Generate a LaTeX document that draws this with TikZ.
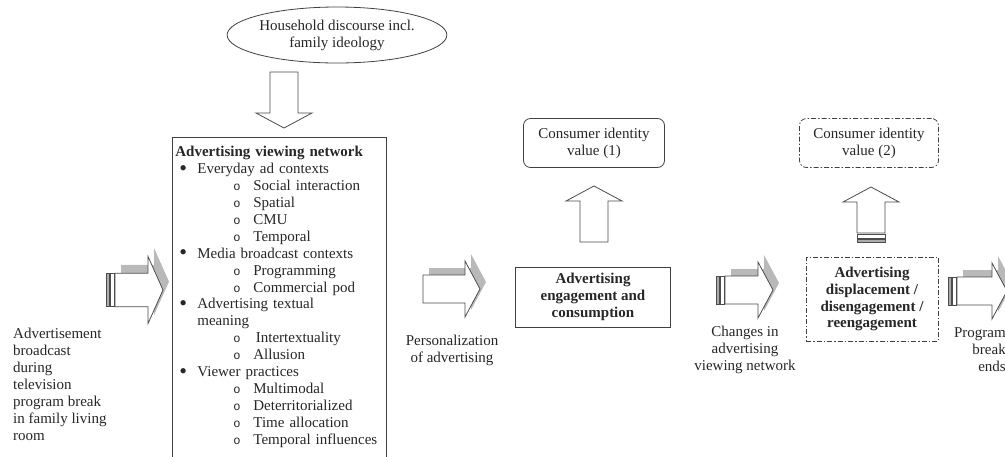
\documentclass[tikz,border=0pt]{standalone}
\usepackage{fontspec}
\setmainfont{Liberation Serif}
\newfontfamily\subbullet{Liberation Mono}
\usetikzlibrary{shapes.geometric, positioning}

\newcommand{\diagfont}{\fontsize{15}{16.9}\selectfont}
\newcommand{\bline}[1]{\hspace*{4pt}\makebox[18pt][l]{\raisebox{-1.5pt}{\fontsize{22}{16}\selectfont\textbullet}}#1}
\newcommand{\sline}[1]{\hspace*{58pt}\makebox[20pt][l]{\fontsize{12}{12}\subbullet o}#1}

% block arrow: [options] {x} {y} {angle} {length}, drawn from the tail
\newcommand{\blockarrow}[5][]{%
  \draw[blockline, shift={(#2,#3)}, rotate=#4, #1] (0,-14) -- ({#5-15},-14) -- ({#5-15},-28) -- (#5,0) -- ({#5-15},28) -- ({#5-15},14) -- (0,14) -- cycle;}
% stripes behind the tail of a block arrow
\newcommand{\stripes}[4][]{%
  \draw[blockline, shift={(#2,#3)}, rotate=#4, #1, fill=gray!65] (-9,-14) rectangle (-6,14);
  \draw[blockline, shift={(#2,#3)}, rotate=#4, #1] (-5,-14) rectangle (-1,14);}

\tikzset{
  blockline/.style={draw=black!70, fill=white, line width=0.8pt},
  shadowfill/.style={draw=none, fill=gray!55, xshift=6pt, yshift=7pt},
  plain/.style={font=\diagfont, text=black!85, inner sep=0pt},
  boldbox/.style={rectangle, draw=black!75, line width=0.8pt, align=center, font=\diagfont\bfseries, text=black!85},
  dashdot/.style={dash pattern=on 5pt off 2pt on 1.5pt off 2pt}
}

\begin{document}
\begin{tikzpicture}[x=1pt,y=-1pt]
\useasboundingbox (0,0) rectangle (1005,456);
\clip (0,0) rectangle (1005,456);

\node[ellipse, draw=black!75, line width=0.8pt, minimum width=178, minimum height=56, align=center, font=\diagfont, text=black!85, inner sep=0pt] (household) at (337,35) {Household discourse incl.\\family ideology};

\node[rectangle, draw=black!75, line width=0.8pt, anchor=north west, text width=208pt, inner xsep=3pt, inner ysep=9pt, align=left, font=\diagfont, text=black!85] (network) at (172,137) {%
\textbf{Advertising viewing network}\\
\bline{Everyday ad contexts}\\
\sline{Social interaction}\\
\sline{Spatial}\\
\sline{CMU}\\
\sline{Temporal}\\
\bline{Media broadcast contexts}\\
\sline{Programming}\\
\sline{Commercial pod}\\
\bline{Advertising textual}\\
\hspace*{22pt}meaning\\
\sline{\,Intertextuality}\\
\sline{Allusion}\\
\bline{Viewer practices}\\
\sline{Multimodal}\\
\sline{Deterritorialized}\\
\sline{Time allocation}\\
\sline{Temporal influences}\\[14pt]
\strut};

\node[plain, align=left, anchor=north west] (broadcast) at (13,328) {Advertisement\\broadcast\\during\\television\\program break\\in family living\\room};

\node[plain, align=center] (personal) at (452,350) {Personalization\\of advertising};

\node[boldbox, minimum width=155, minimum height=60] (engage) at (593,297) {Advertising\\engagement and\\consumption};
\node[rectangle, rounded corners=7pt, draw=black!75, line width=0.8pt, minimum width=141, minimum height=49, align=center, font=\diagfont, text=black!85] (value1) at (594,143) {Consumer identity\\value (1)};

\node[plain, align=center] (changes) at (745,350) {Changes in\\advertising\\viewing network};

\node[boldbox, dashdot, minimum width=132, minimum height=84] (displace) at (872,299) {Advertising\\displacement /\\disengagement /\\reengagement};
\node[rectangle, rounded corners=7pt, draw=black!75, line width=0.8pt, dashdot, minimum width=139, minimum height=49, align=center, font=\diagfont, text=black!85] (value2) at (869,143) {Consumer identity\\value (2)};

\node[plain, align=right, anchor=east] (progend) at (1006,350) {Program\\break\\ends};

% block arrows
\blockarrow{284}{72}{270}{56}
\blockarrow{594}{242}{90}{56}
\stripes{871}{233}{90}
\blockarrow{871}{233}{90}{46}

\blockarrow[yscale=1.2, shadowfill]{115}{290}{0}{48}
\stripes[yscale=1.2]{115}{290}{0}
\blockarrow[yscale=1.2]{115}{290}{0}{48}

\blockarrow[shadowfill]{423}{289}{0}{57}
\blockarrow{423}{289}{0}{57}

\blockarrow[shadowfill]{725}{290}{0}{48}
\stripes{725}{290}{0}
\blockarrow{725}{290}{0}{48}

\blockarrow[shadowfill]{957}{291}{0}{50}
\stripes{957}{291}{0}
\blockarrow{957}{291}{0}{50}

\end{tikzpicture}
\end{document}
